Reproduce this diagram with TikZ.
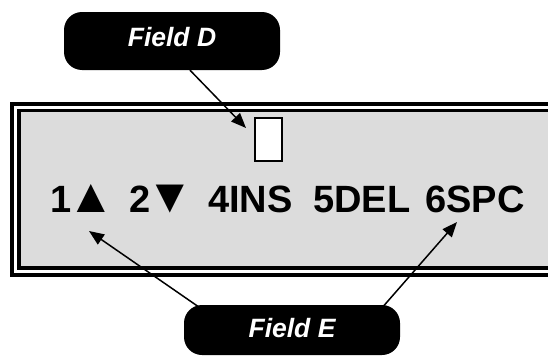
\documentclass[tikz,border=0pt]{standalone}
\usepackage{fontspec}
\setmainfont{Liberation Sans}
\usetikzlibrary{arrows.meta}
\definecolor{lcdgray}{HTML}{DCDCDC}
\newcommand{\bigtri}[1]{\kern-4pt{\fontsize{48}{48}\selectfont #1}}
\tikzset{
  x=1pt, y=-1pt,
  callout/.style={fill=black, rounded corners=18pt, inner sep=0pt},
  calltext/.style={text=white, font=\fontsize{26.5}{30}\selectfont\bfseries\itshape, inner sep=0pt, anchor=base},
  lcdtext/.style={font=\fontsize{38}{42}\selectfont\bfseries, inner sep=0pt, anchor=base west},
  pointer/.style={line width=1.5pt, -{Triangle[length=15pt,width=12pt]}}
}
\begin{document}
\begin{tikzpicture}
\path[use as bounding box] (0,0) rectangle (548,356);
\clip (0,0) rectangle (548,356);
\fill[white] (0,0) rectangle (548,356);
% LCD frame
\draw[line width=4pt, fill=white] (12,104) rectangle (570,275);
\draw[line width=3.5pt, fill=lcdgray] (19,110.5) rectangle (570,268);
% cursor
\node[draw=black, line width=2pt, fill=white, minimum width=27pt, minimum height=43pt, inner sep=0pt] (cur) at (268.5,139.5) {};
% texts
\node[lcdtext] (t1) at (50,212.5) {1\bigtri{▲}};
\node[lcdtext] (t2) at (129,212.5) {2\bigtri{▼}};
\node[lcdtext] (t4) at (208,212.5) {4INS};
\node[lcdtext] (t5) at (313,212.5) {5DEL};
\node[lcdtext] (t6) at (425,212.5) {6SPC};
% callouts
\path[callout] (64,12) rectangle (280,70);
\node[inner sep=0pt, minimum width=216pt, minimum height=58pt] (fd) at (172,41) {};
\node[calltext] (fdt) at (172,46) {Field D};
\path[callout] (184,305) rectangle (400,355);
\node[inner sep=0pt, minimum width=216pt, minimum height=50pt] (fe) at (292,330) {};
\node[calltext] (fet) at (292,337) {Field E};
% pointers
\coordinate (dtip) at (246,128);
\coordinate (e1tip) at (89,231);
\coordinate (e2tip) at (457,222);
\draw[pointer] ([xshift=18pt]fd.south) -- (dtip);
\draw[pointer] ([xshift=-92pt,yshift=-3pt]fe.north) -- (e1tip);
\draw[pointer] ([xshift=90pt,yshift=-3pt]fe.north) -- (e2tip);
\end{tikzpicture}
\end{document}
